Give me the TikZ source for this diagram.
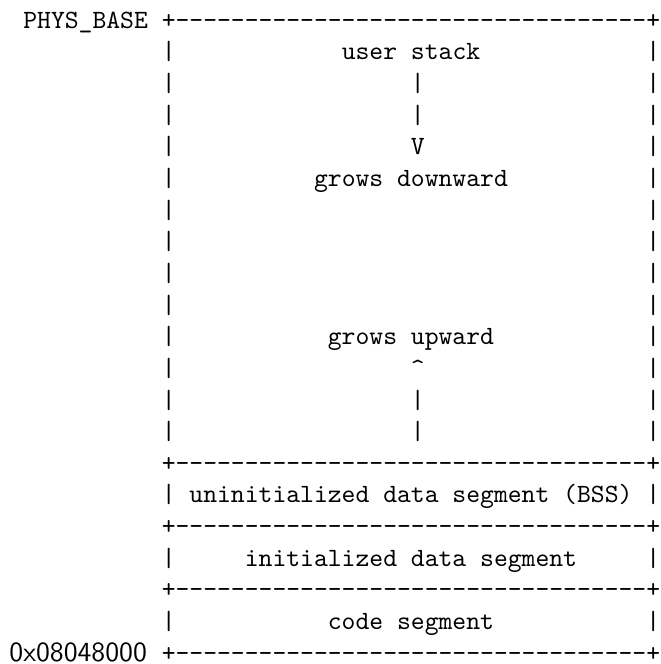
\documentclass[tikz,border=0pt]{standalone}
\usepackage{fontspec}
\newcommand\dashrun[1]{\foreach \n in {1,...,#1}{\mbox{-}}}
\begin{document}
\begin{tikzpicture}[x=5.25pt,y=-12pt,
  tt/.style={inner sep=0pt,outer sep=0pt,anchor=base west,
    font=\ttfamily\fontsize{10}{12}\selectfont},
  addr/.style={inner sep=0pt,outer sep=0pt,anchor=base west,
    font=\sffamily\fontsize{10.5}{12}\selectfont}]
\useasboundingbox (-0.686,-0.894) rectangle (47.0,20.09);
% labels at the left
\node[tt] (physbase) at (1,0) {PHYS\_BASE};
\node[addr] (codebase) at (0,20) {0x08048000};
% horizontal borders
\foreach \k/\nm in {0/btop,14/bbss,16/binit,18/bcode,20/bbottom}
  \node[tt] (\nm) at (11,\k) {+\dashrun{34}+};
% side bars
\foreach \k in {1,...,13,15,17,19}{
  \node[tt] (lb\k) at (11,\k) {|};
  \node[tt] (rb\k) at (46,\k) {|};
}
% stack region
\node[tt] (ustack) at (24,1) {user stack};
\node[tt] (down1) at (29,2) {|};
\node[tt] (down2) at (29,3) {|};
\node[tt] (downv) at (29,4) {V};
\node[tt] (growsdown) at (22,5) {grows downward};
\node[tt] (growsup) at (23,10) {grows upward};
\node[tt] (upcaret) at (29,11) {\textasciicircum};
\node[tt] (up1) at (29,12) {|};
\node[tt] (up2) at (29,13) {|};
% segments
\node[tt] (bss) at (13,15) {uninitialized data segment (BSS)};
\node[tt] (init) at (17,17) {initialized data segment};
\node[tt] (code) at (23,19) {code segment};
\end{tikzpicture}
\end{document}
